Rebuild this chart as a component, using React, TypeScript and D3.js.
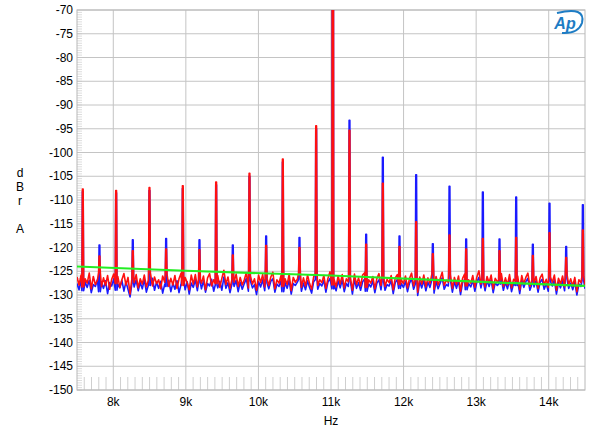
import React from 'react';
import * as d3 from 'd3';

// J-test spectrum, 11.025kHz tone with 229.7Hz LSB squarewave sidebands
const W = 600;
const H = 433;
const margin = { top: 10, right: 15, bottom: 43, left: 77 };

const xTicks = [8000, 9000, 10000, 11000, 12000, 13000, 14000];
const xTickLabels = ['8k', '9k', '10k', '11k', '12k', '13k', '14k'];
const yTicks = [-70, -75, -80, -85, -90, -95, -100, -105, -110, -115, -120, -125, -130, -135, -140, -145, -150];

// sideband / tone frequencies (Hz), k = -15 .. 15
const peakFreqs = [
  7579.7, 7809.4, 8039.1, 8268.8, 8498.4, 8728.1, 8957.8, 9187.5, 9417.2, 9646.9,
  9876.6, 10106.3, 10335.9, 10565.6, 10795.3, 11025.0, 11254.7, 11484.4, 11714.1, 11943.8,
  12173.4, 12403.1, 12632.8, 12862.5, 13092.2, 13321.9, 13551.6, 13781.3, 14010.9, 14240.6,
  14470.3,
];
const redPeaks = [
  -107.7, -121.8, -108.0, -120.7, -107.4, -120.3, -107.0, -120.5, -106.2, -121.6,
  -104.4, -119.6, -101.4, -120.0, -94.4, 0, -95.3, -119.3, -106.5, -119.8,
  -114.6, -121.3, -117.4, -120.3, -118.1, -120.7, -117.9, -121.7, -116.9, -122.1,
  -116.3,
];
const bluePeaks = [
  -108.2, -119.5, -108.5, -118.4, -108.0, -118.1, -107.6, -118.4, -106.8, -119.5,
  -105.0, -117.6, -102.0, -117.9, -95.0, 0, -93.2, -117.2, -101.0, -117.6,
  -104.7, -119.2, -107.1, -118.2, -108.3, -118.2, -109.4, -119.3, -110.7, -119.8,
  -111.0,
];

// noise floor, read left to right across 7.5k..14.5k
const redNoise = [
  -126.2, -127.9, -125.8, -128.3, -126.6, -127.5, -125.4, -128.7, -126.1, -127.8,
  -126.9, -125.3, -128.2, -126.4, -128.0, -125.9, -128.8, -126.7, -125.6, -127.6,
  -126.1, -128.4, -126.8, -125.5, -127.9, -126.3, -129.8, -126.5, -127.4, -125.7,
  -128.5, -126.6, -127.7, -125.8, -128.3, -126.9, -125.3, -128.1, -126.2, -127.6,
  -126.8, -128.7, -126.0, -127.3, -125.6, -128.2, -126.5, -127.9, -125.9, -128.6,
  -126.6, -125.4, -128.0, -126.3, -127.4, -128.9, -125.8, -127.7, -125.7, -128.3,
  -126.7, -127.5, -126.0, -128.9, -126.4, -125.5, -128.1, -126.8, -127.6, -125.9,
  -128.4, -126.5, -124.8, -127.8, -126.2, -128.6, -126.7, -127.3, -125.6, -128.2,
  -126.3, -127.9, -126.8, -125.3, -128.5, -126.0, -127.7, -126.6, -129.0, -125.8,
  -127.4, -125.7, -128.3, -126.5, -128.0, -126.2, -125.2, -128.7, -126.8, -127.5,
  -125.9, -128.2, -126.6, -127.8, -125.6, -129.1, -126.3, -127.3, -126.7, -125.4,
  -128.4, -126.4, -128.1, -125.8, -127.6, -128.8, -126.2, -125.5, -128.0, -126.8,
  -127.4, -125.9, -128.6, -126.5, -125.1, -127.9, -126.7, -128.3, -126.0, -127.7,
  -125.7, -128.5, -126.6, -127.2, -126.3, -129.0, -125.6, -127.8, -126.4, -128.1,
  -125.8, -125.3, -128.4, -126.8, -127.5, -126.1, -128.7, -126.5, -125.5, -128.0,
  -126.3, -128.2, -126.7, -127.4, -125.9, -128.9, -126.4, -125.7, -127.8, -126.8,
  -127.6, -126.0, -128.5, -126.5, -125.4, -128.1, -126.7, -129.4, -126.2, -127.7,
  -125.8, -128.3, -126.4, -127.6, -125.5, -128.8, -126.1, -127.9, -126.6, -125.2,
  -128.0, -126.9, -127.3, -125.7, -128.6, -126.3, -127.8, -126.0, -129.2, -126.5,
  -125.6, -128.1, -126.8, -127.5, -125.9, -128.4, -126.2, -124.9, -127.7, -126.6,
  -128.3, -126.1, -127.4, -125.8, -128.7, -126.5, -127.2, -126.9, -125.5, -128.2,
  -126.4, -127.9, -125.7, -128.5, -126.7, -127.1, -126.0, -128.9, -125.9, -127.6,
  -126.3, -125.4, -128.2, -126.8, -127.5, -126.1, -128.6, -126.4, -125.6, -127.9,
  -126.7, -128.4, -126.2, -127.3, -125.8, -129.0, -126.5, -127.7, -126.0, -128.3,
  -125.7, -127.8, -126.6, -128.1, -126.3, -129.3, -126.8, -127.4, -126.1, -127.9,
];
const blueNoise = [
  -127.6, -128.9, -126.7, -129.1, -127.3, -128.4, -126.9, -129.5, -127.8, -128.2,
  -126.8, -129.3, -127.5, -128.6, -127.0, -129.7, -127.4, -128.1, -126.6, -129.0,
  -127.7, -128.5, -126.9, -129.2, -127.2, -128.8, -130.4, -127.6, -128.3, -126.8,
  -129.1, -127.4, -128.7, -126.7, -129.4, -127.9, -128.0, -126.5, -129.0, -127.3,
  -128.6, -127.1, -129.6, -127.7, -128.2, -126.9, -129.3, -127.5, -128.8, -127.0,
  -129.5, -127.8, -126.6, -128.9, -127.2, -129.8, -127.5, -128.4, -126.8, -129.1,
  -127.4, -128.7, -127.0, -129.4, -127.6, -128.1, -126.7, -129.2, -127.9, -128.5,
  -127.1, -129.0, -126.2, -128.6, -127.4, -129.5, -127.7, -128.2, -126.9, -129.3,
  -127.3, -128.8, -127.6, -126.5, -129.2, -127.0, -128.5, -127.8, -129.9, -127.2,
  -128.3, -126.8, -129.1, -127.5, -128.7, -127.1, -126.6, -129.4, -127.7, -128.2,
  -127.0, -129.3, -127.4, -128.6, -126.9, -129.8, -127.6, -128.0, -127.3, -126.7,
  -129.2, -127.5, -128.9, -127.0, -128.4, -129.6, -127.2, -126.8, -128.8, -127.6,
  -128.1, -126.9, -129.4, -127.3, -126.5, -128.7, -127.8, -129.1, -127.0, -128.5,
  -126.8, -129.3, -127.6, -128.2, -127.1, -129.8, -126.7, -128.6, -127.4, -129.0,
  -127.2, -126.6, -129.2, -127.7, -128.3, -127.0, -129.5, -127.5, -126.8, -128.9,
  -127.3, -129.0, -127.8, -128.1, -126.9, -129.7, -127.4, -126.7, -128.6, -127.6,
  -128.4, -127.1, -129.3, -127.5, -126.6, -128.8, -127.7, -130.1, -127.2, -128.5,
  -126.9, -129.1, -127.3, -128.4, -126.7, -129.6, -127.1, -128.7, -127.5, -126.4,
  -128.8, -127.8, -128.1, -126.8, -129.4, -127.2, -128.6, -127.0, -129.9, -127.4,
  -126.7, -128.9, -127.6, -128.3, -126.9, -129.2, -127.3, -126.3, -128.5, -127.5,
  -129.1, -127.0, -128.2, -126.8, -129.5, -127.4, -128.0, -127.7, -126.6, -129.0,
  -127.3, -128.7, -126.8, -129.3, -127.6, -128.0, -127.0, -129.7, -126.9, -128.4,
  -127.2, -126.5, -129.0, -127.7, -128.3, -127.0, -129.4, -127.3, -126.7, -128.8,
  -127.6, -129.2, -127.1, -128.1, -126.8, -129.8, -127.4, -128.5, -127.0, -129.1,
  -126.6, -128.6, -127.5, -128.9, -127.2, -130.0, -127.7, -128.2, -127.0, -128.7,
];

// green reference curve
const greenFreqs = [7500, 9000, 11000, 13000, 14500];
const greenLevels = [-124.0, -124.9, -125.9, -127.2, -128.1];

const ff = '"Liberation Sans", Arial, sans-serif';

type Pt = { f: number; v: number };

export default function App() {
  const iw = W - margin.left - margin.right;
  const ih = H - margin.top - margin.bottom;
  const x = d3.scaleLinear().domain([7500, 14500]).range([0, iw]);
  const y = d3.scaleLinear().domain([-150, -70]).range([ih, 0]);

  // merge the noise bins with the sideband spikes
  const buildTrace = (noise: number[], peaks: number[]): Pt[] => {
    const bin = d3.scaleLinear().domain([0, noise.length - 1]).range([7500, 14500]);
    const pts: Pt[] = noise
      .map((v, i) => ({ f: bin(i), v }))
      .filter(p => !peakFreqs.some(f => Math.abs(p.f - f) < 14));
    peakFreqs.forEach((f, j) => {
      const base = noise[Math.round(bin.invert(f))];
      pts.push({ f: f - 12, v: base }, { f: f - 5, v: peaks[j] }, { f: f + 5, v: peaks[j] }, { f: f + 12, v: base });
    });
    return pts.sort((a, b) => a.f - b.f);
  };

  const line = d3.line<Pt>().x(d => x(d.f)).y(d => y(d.v));
  const blueD = line(buildTrace(blueNoise, bluePeaks)) || '';
  const redD = line(buildTrace(redNoise, redPeaks)) || '';
  const greenD = line(greenFreqs.map((f, i) => ({ f, v: greenLevels[i] }))) || '';

  const yMinor = d3.range(-150, -70, 0.5);
  const xMinor = d3.range(7600, 14500, 100).filter(f => f % 1000 !== 0);

  return (
    <svg width={W} height={H} style={{ position: 'absolute', left: 0, top: 0, background: '#fff' }}>
      <defs>
        <clipPath id="plot-clip">
          <rect x={0} y={0} width={iw} height={ih} />
        </clipPath>
      </defs>
      <g transform={`translate(${margin.left},${margin.top})`}>
        {/* minor ticks */}
        {yMinor.map(v => (
          <line key={'ym' + v} x1={0} x2={5} y1={y(v)} y2={y(v)} stroke="#d4d4d4" strokeWidth={0.8} />
        ))}
        {xMinor.map(f => (
          <line key={'xm' + f} x1={x(f)} x2={x(f)} y1={ih} y2={ih - 13} stroke="#cfcfcf" strokeWidth={1} />
        ))}
        {/* grid */}
        {yTicks.map(v => (
          <line key={'yg' + v} x1={0} x2={iw} y1={y(v)} y2={y(v)} stroke="#c4c4c4" strokeWidth={1} />
        ))}
        {xTicks.map(f => (
          <line key={'xg' + f} x1={x(f)} x2={x(f)} y1={0} y2={ih} stroke="#c4c4c4" strokeWidth={1} />
        ))}
        <rect x={0} y={0} width={iw} height={ih} fill="none" stroke="#b8b8b8" strokeWidth={1} />

        <g clipPath="url(#plot-clip)">
          <path d={blueD} fill="none" stroke="#1a1aff" strokeWidth={1.6} strokeLinejoin="round" />
          <path d={redD} fill="none" stroke="#ff1010" strokeWidth={1.6} strokeLinejoin="round" />
          <path d={greenD} fill="none" stroke="#22ee22" strokeWidth={2.2} />
        </g>

        {/* y tick labels */}
        {yTicks.map(v => (
          <text key={'yl' + v} x={-4} y={y(v)} dy="0.35em" textAnchor="end" fontFamily={ff} fontSize={12} fill="#000">
            {v}
          </text>
        ))}
        {/* x tick labels */}
        {xTicks.map((f, i) => (
          <text key={'xl' + f} x={x(f)} y={ih + 16} textAnchor="middle" fontFamily={ff} fontSize={12} fill="#000">
            {xTickLabels[i]}
          </text>
        ))}
        <text x={x(11000)} y={ih + 35} textAnchor="middle" fontFamily={ff} fontSize={12} fill="#000">Hz</text>
      </g>

      {/* y axis title */}
      {['d', 'B', 'r'].map((c, i) => (
        <text key={c} x={20} y={177 + i * 14} textAnchor="middle" fontFamily={ff} fontSize={12} fill="#000">{c}</text>
      ))}
      <text x={20} y={233} textAnchor="middle" fontFamily={ff} fontSize={12} fill="#000">A</text>

      {/* AP logo */}
      <g>
        <path d="M557,13 Q586,6 582,23 Q578,34 562,33" fill="none" stroke="#1d7cc4" strokeWidth={2} />
        <text x={565} y={29} textAnchor="middle" fontFamily={ff} fontStyle="italic" fontWeight="bold" fontSize={16} fill="#1d7cc4">Ap</text>
      </g>
    </svg>
  );
}
